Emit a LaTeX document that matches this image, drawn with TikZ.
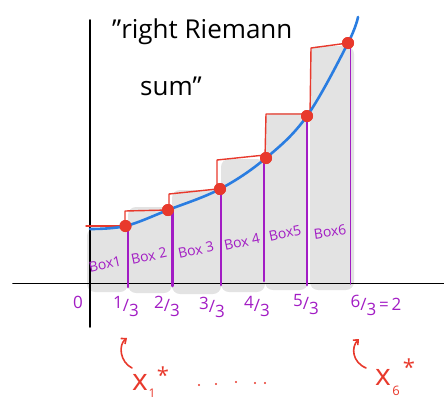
\documentclass[tikz,border=0pt]{standalone}
\usepackage{fontspec}
\setmainfont{Open Sans}
\usetikzlibrary{arrows.meta}
\definecolor{cblue}{HTML}{2A7DE1}
\definecolor{cred}{HTML}{E8392C}
\definecolor{cpurp}{HTML}{A21CC4}
\definecolor{shade}{HTML}{E3E3E3}
\newcommand\myfr[2]{\raisebox{3pt}{#1}/\raisebox{-5pt}{#2}}
\begin{document}
\begin{tikzpicture}[x=1pt,y=-1pt, line cap=round, line join=round,
  boxbg/.style={fill=shade, rounded corners=8pt},
  purp/.style={draw=cpurp, line width=2.8pt},
  stepline/.style={draw=cred, line width=1.4pt},
  lbl/.style={text=cpurp, font=\fontsize{14}{14}\selectfont, inner sep=0, rotate=12},
  fracl/.style={text=cpurp, font=\fontsize{17}{17}\selectfont, inner sep=0},
  dot/.style={circle, fill=cred, minimum size=12pt, inner sep=0},
  sdot/.style={circle, fill=cred, minimum size=2.4pt, inner sep=0},
  hand/.style={text=cred, inner sep=0},
  redarrow/.style={draw=cred, line width=1.6pt, -{Straight Barb[length=4pt,width=7pt]}},
  ]
\useasboundingbox (0,0) rectangle (444,402);
% shaded boxes
\fill[boxbg] (87,228) rectangle (128,292);
\fill[boxbg] (128,207) rectangle (172,293);
\fill[boxbg] (172,190) rectangle (221,294);
\fill[boxbg] (221,159) rectangle (265,292);
\fill[boxbg] (265,113) rectangle (308,290);
\fill[boxbg] (310,46) rectangle (354,290);
% axes
\draw[line width=1.6pt] (13,283.5) -- (444,283.5);
\draw[line width=1.6pt] (90,20) -- (90,327);
% dots
\node[dot] (d1) at (125.5,226) {};
\node[dot] (d2) at (168,210) {};
\node[dot] (d3) at (220,189) {};
\node[dot] (d4) at (266,158) {};
\node[dot] (d5) at (307,116) {};
\node[dot] (d6) at (348,43) {};
% purple lines
\draw[purp] (128,226) -- (128,287);
\draw[purp] (172.5,210) -- (172.5,286);
\draw[purp] (221,189) -- (221,285);
\draw[purp] (264,158) -- (264,281);
\draw[purp] (307,116) -- (307,285);
\draw[draw=cpurp, line width=1.5pt] (350.5,43) -- (350.5,284);
% red step outline
\draw[stepline] (86,226) -- (125,226);
\draw[stepline] (125,226) -- (125,211) -- (168,210);
\draw[stepline] (169,210) -- (169,194) -- (217,189);
\draw[stepline] (217,189) -- (217,160) -- (265,155);
\draw[stepline] (265,158) -- (266,114) -- (307,114);
\draw[stepline] (310,116) -- (311,48) -- (348,43);
% curve
\draw[cblue, line width=2.6pt] plot[smooth, tension=0.6] coordinates {(90,229) (125.5,226) (168,210) (220,189) (266,158) (307,116) (348,43) (358,17)};
\node[dot] at (d1) {};
\node[dot] at (d2) {};
\node[dot] at (d3) {};
\node[dot] at (d4) {};
\node[dot] at (d5) {};
\node[dot] at (d6) {};
% title
\node[anchor=base west, inner sep=0, font=\fontsize{26}{26}\selectfont] (t1) at (112,38) {"right Riemann};
\node[anchor=base west, inner sep=0, font=\fontsize{26}{26}\selectfont] (t2) at (140,95) {sum"};
% box labels
\node[lbl] (b1) at (105,264) {Box1};
\node[lbl] (b2) at (149,256) {Box 2};
\node[lbl] (b3) at (196,250) {Box 3};
\node[lbl] (b4) at (242,242) {Box 4};
\node[lbl] (b5) at (285,233) {Box5};
\node[lbl, rotate=-4] (b6) at (330,232) {Box6};
% axis labels
\node[fracl] (l0) at (78,302) {0};
\node[fracl] (l1) at (126,307) {\myfr{1}{3}};
\node[fracl] (l2) at (167,306) {\myfr{2}{3}};
\node[fracl] (l3) at (212,307) {\myfr{3}{3}};
\node[fracl] (l4) at (257,306) {\myfr{4}{3}};
\node[fracl] (l5) at (306,305) {\myfr{5}{3}};
\node[fracl] (l6) at (376,305) {\myfr{6}{3}\,=\,2};
% arrows
\coordinate (a1s) at (132,368);
\coordinate (a1e) at (127,338);
\draw[redarrow] (a1s) .. controls (120,362) and (118,345) .. (a1e);
\coordinate (a6s) at (366,368);
\coordinate (a6e) at (359,339);
\draw[redarrow] (a6s) .. controls (352,362) and (351,347) .. (a6e);
% x labels
\node[hand, font=\fontsize{30}{30}\selectfont] (x1) at (140,382) {x};
\node[hand, font=\fontsize{12}{12}\selectfont] (x1s) at (152,393) {1};
\node[hand, font=\fontsize{22}{22}\selectfont] (x1a) at (163,375) {*};
\node[hand, font=\fontsize{30}{30}\selectfont] (x6) at (383,377) {x};
\node[hand, font=\fontsize{13}{13}\selectfont] (x6s) at (396,391) {6};
\node[hand, font=\fontsize{22}{22}\selectfont] (x6a) at (409,367) {*};
% dots
\node[sdot] (e1) at (199,385) {};
\node[sdot] (e2) at (216,384) {};
\node[sdot] (e3) at (236,382) {};
\node[sdot] (e4) at (255,383) {};
\node[sdot] (e5) at (265,383) {};
\end{tikzpicture}
\end{document}
